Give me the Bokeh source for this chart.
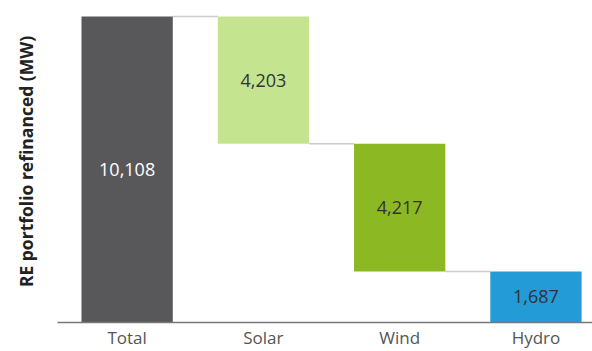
import numpy as np
from bokeh.plotting import figure
from bokeh.models import ColumnDataSource, Range1d, FixedTicker
from bokeh.core.properties import value
from bokeh.embed import file_html
from bokeh.resources import INLINE

categories = ["Total", "Solar", "Wind", "Hydro"]
values = [10108, 4203, 4217, 1687]
is_total = [True, False, False, False]
colors = ["#58585a", "#c5e490", "#8cb923", "#229bd6"]
label_colors = ["#ffffff", "#333333", "#333333", "#333333"]

FONT = "Open Sans"
BAR_W = 0.67

# waterfall geometry derived from data
tops, bottoms = [], []
level = 0
for v, t in zip(values, is_total):
    if t:
        bottoms.append(0); tops.append(v); level = v
    else:
        tops.append(level); bottoms.append(level - v); level = level - v
xs = list(range(len(categories)))
mids = [(a + b) / 2 for a, b in zip(tops, bottoms)]
labels = [f"{v:,}" for v in values]

src = ColumnDataSource(dict(x=xs, top=tops, bottom=bottoms, color=colors,
                            mid=mids, label=labels, lc=label_colors))

p = figure(width=592, height=351, output_backend="svg", toolbar_location=None,
           x_range=Range1d(-0.511, 3.415), y_range=Range1d(0, 10637),
           min_border_left=57, min_border_right=0, min_border_top=0, min_border_bottom=29)
p.outline_line_color = None
p.grid.visible = False
p.background_fill_color = "white"
p.border_fill_color = "white"

# connectors between consecutive bars
cx0 = [i + BAR_W / 2 for i in xs[:-1]]
cx1 = [i + 1 - BAR_W / 2 for i in xs[:-1]]
cy = [tops[i + 1] for i in xs[:-1]]
p.segment(x0=cx0, x1=cx1, y0=cy, y1=cy, line_color="#cccccc", line_width=1.5)

p.vbar(x="x", top="top", bottom="bottom", width=BAR_W, fill_color="color",
       line_color=None, source=src)

p.text(x="x", y="mid", text="label", text_color="lc", text_align="center",
       text_baseline="middle", text_font=value(FONT), text_font_size="18px", source=src)

# x axis
p.xaxis.ticker = FixedTicker(ticks=xs)
p.xaxis.major_label_overrides = {i: c for i, c in zip(xs, categories)}
p.xaxis.major_tick_line_color = None
p.xaxis.minor_tick_line_color = None
p.xaxis.axis_line_color = "#777777"
p.xaxis.axis_line_width = 1.5
p.xaxis.major_label_standoff = -3
p.xaxis.major_label_text_font = FONT
p.xaxis.major_label_text_font_size = "17px"
p.xaxis.major_label_text_color = "#555555"

# y axis: label only
p.yaxis.ticker = FixedTicker(ticks=[])
p.yaxis.major_tick_line_color = None
p.yaxis.minor_tick_line_color = None
p.yaxis.axis_line_color = None
p.yaxis.major_label_text_font_size = "0px"
p.yaxis.axis_label = "RE portfolio refinanced (MW)"
p.yaxis.axis_label_text_font = FONT
p.yaxis.axis_label_text_font_style = "bold"
p.yaxis.axis_label_text_font_size = "17.5px"
p.yaxis.axis_label_text_color = "#222222"
p.yaxis.axis_label_standoff = 20

open("out.html", "w").write(file_html(p, INLINE))
